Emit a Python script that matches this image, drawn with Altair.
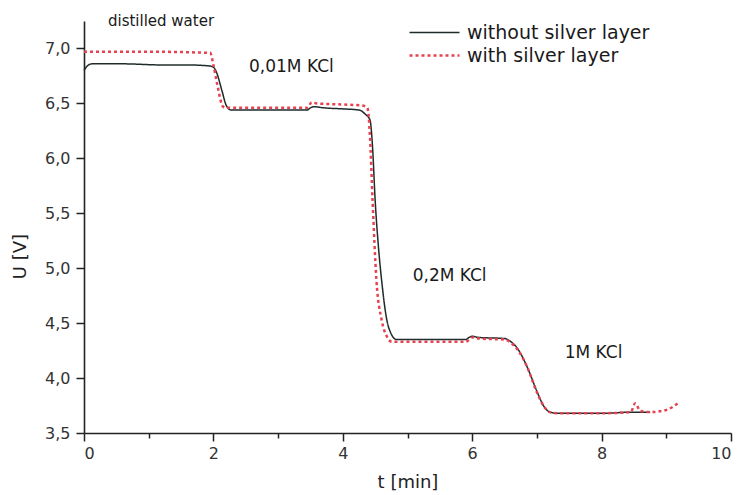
import altair as alt
import pandas as pd

# --- data ---
t_without = [0.0, 0.05, 0.12, 0.6, 1.2, 1.6, 1.95, 2.0, 2.05, 2.13, 2.2, 2.27, 2.8, 3.45,
             3.5, 3.55, 3.7, 4.0, 4.25, 4.35, 4.42, 4.46, 4.5, 4.55, 4.6, 4.68, 4.75, 4.83,
             5.3, 5.9, 5.95, 6.0, 6.1, 6.5, 6.6, 6.7, 6.85, 7.0, 7.1, 7.2, 7.3, 8.0, 8.5, 8.75]
u_without = [6.80, 6.84, 6.86, 6.86, 6.85, 6.85, 6.84, 6.83, 6.78, 6.62, 6.48, 6.44, 6.44, 6.44,
             6.46, 6.47, 6.46, 6.45, 6.44, 6.40, 6.35, 6.10, 5.62, 5.20, 4.89, 4.53, 4.40, 4.35,
             4.35, 4.35, 4.37, 4.38, 4.37, 4.36, 4.33, 4.27, 4.10, 3.88, 3.75, 3.69, 3.68, 3.68, 3.69, 3.69]

t_with = [0.0, 1.0, 1.95, 2.0, 2.06, 2.15, 2.2, 2.8, 3.45, 3.52, 3.6, 4.0, 4.3, 4.38,
          4.42, 4.46, 4.52, 4.6, 4.68, 4.76, 5.3, 5.9, 6.0, 6.1, 6.5, 6.6, 6.7, 6.85,
          7.0, 7.1, 7.2, 7.3, 8.0, 8.45, 8.52, 8.6, 8.75, 9.0, 9.2]
u_with = [6.97, 6.97, 6.96, 6.85, 6.67, 6.47, 6.46, 6.46, 6.46, 6.51, 6.50, 6.49, 6.48, 6.46,
          6.20, 5.62, 4.89, 4.53, 4.38, 4.33, 4.33, 4.33, 4.37, 4.36, 4.35, 4.32, 4.26, 4.10,
          3.87, 3.75, 3.69, 3.68, 3.68, 3.69, 3.77, 3.70, 3.69, 3.71, 3.78]

series_names = ["without silver layer", "with silver layer"]
series_colors = ["#1f2b2b", "#e8404e"]

ann_text = ["distilled water", "0,01M KCl", "0,2M KCl", "1M KCl"]
ann_t = [0.37, 2.55, 5.08, 7.43]
ann_u = [7.25, 6.83, 4.93, 4.23]
ann_size = [15, 17, 17, 17]

x_ticks = list(range(0, 11))
y_ticks = [3.5 + 0.25 * i for i in range(15)]

rows = []
for i, (t, u) in enumerate(zip(t_without, u_without)):
    rows.append({"t": t, "U": u, "series": series_names[0], "order": i})
for i, (t, u) in enumerate(zip(t_with, u_with)):
    rows.append({"t": t, "U": u, "series": series_names[1], "order": i})
df = pd.DataFrame(rows)
ann = pd.DataFrame({"t": ann_t, "U": ann_u, "label": ann_text, "size": ann_size})

font = "DejaVu Sans"

x_scale = alt.Scale(domain=[0, 10], nice=False, zero=False)
y_scale = alt.Scale(domain=[3.5, 7.25], nice=False, zero=False)

x_axis = alt.Axis(
    values=x_ticks,
    labelExpr="datum.value % 2 == 0 ? format(datum.value, 'd') : ''",
    tickSize={"condition": {"test": "datum.value % 2 == 0", "value": 8}, "value": 5},
    title="t [min]", titleY=49, titleBaseline="middle", titleFontSize=18,
    titleFontWeight="normal",
    grid=False, labelFontSize=16, labelPadding=4,
)
y_axis = alt.Axis(
    values=y_ticks,
    labelExpr="(datum.value * 100) % 50 == 0 ? replace(format(datum.value, '.1f'), '.', ',') : ''",
    tickSize={"condition": {"test": "(datum.value * 100) % 50 == 0", "value": 8}, "value": 5},
    title="U [V]", titleX=-64, titleY=235, titleFontSize=18, titleFontWeight="normal",
    titleAngle=-90, titleAlign="center", titleBaseline="middle",
    grid=False, labelFontSize=16, labelPadding=6,
)

legend_cfg = dict(title=None, orient="none", legendX=324, legendY=0,
                  symbolType="stroke", symbolSize=2500, clipHeight=23,
                  symbolStrokeWidth=2, labelFontSize=19, labelOffset=6, labelLimit=400,
                  rowPadding=0, padding=0, labelColor="#1a1a1a", labelFont=font)

lines = alt.Chart(df).mark_line(interpolate="monotone").encode(
    x=alt.X("t:Q", scale=x_scale, axis=x_axis),
    y=alt.Y("U:Q", scale=y_scale, axis=y_axis),
    color=alt.Color("series:N", scale=alt.Scale(domain=series_names, range=series_colors),
                    legend=alt.Legend(**legend_cfg)),
    strokeDash=alt.StrokeDash("series:N",
                              scale=alt.Scale(domain=series_names, range=[[1, 0], [3, 3]]),
                              legend=alt.Legend(**legend_cfg)),
    strokeWidth=alt.StrokeWidth("series:N", scale=alt.Scale(domain=series_names, range=[1.5, 2.5]),
                                legend=None),
    detail="series:N",
    order="order:Q",
)

texts = alt.Chart(ann).mark_text(align="left", baseline="middle",
                                 font=font, color="#1a1a1a").encode(
    x=alt.X("t:Q", scale=x_scale),
    y=alt.Y("U:Q", scale=y_scale),
    text="label:N",
    size=alt.Size("size:Q", scale=None, legend=None),
)

chart = alt.layer(lines, texts).properties(
    width=647, height=412,
    autosize=alt.AutoSizeParams(type="none"),
    padding={"left": 76, "top": 13, "right": 4, "bottom": 60},
).configure(font=font).configure_view(stroke=None).configure_axis(
    domainColor="#222222", domainWidth=1.6, tickColor="#222222", tickWidth=1.5,
    labelColor="#333333", titleColor="#222222", labelFont=font, titleFont=font,
)

chart.save("out.html", embed_options={"renderer": "svg", "actions": False})
